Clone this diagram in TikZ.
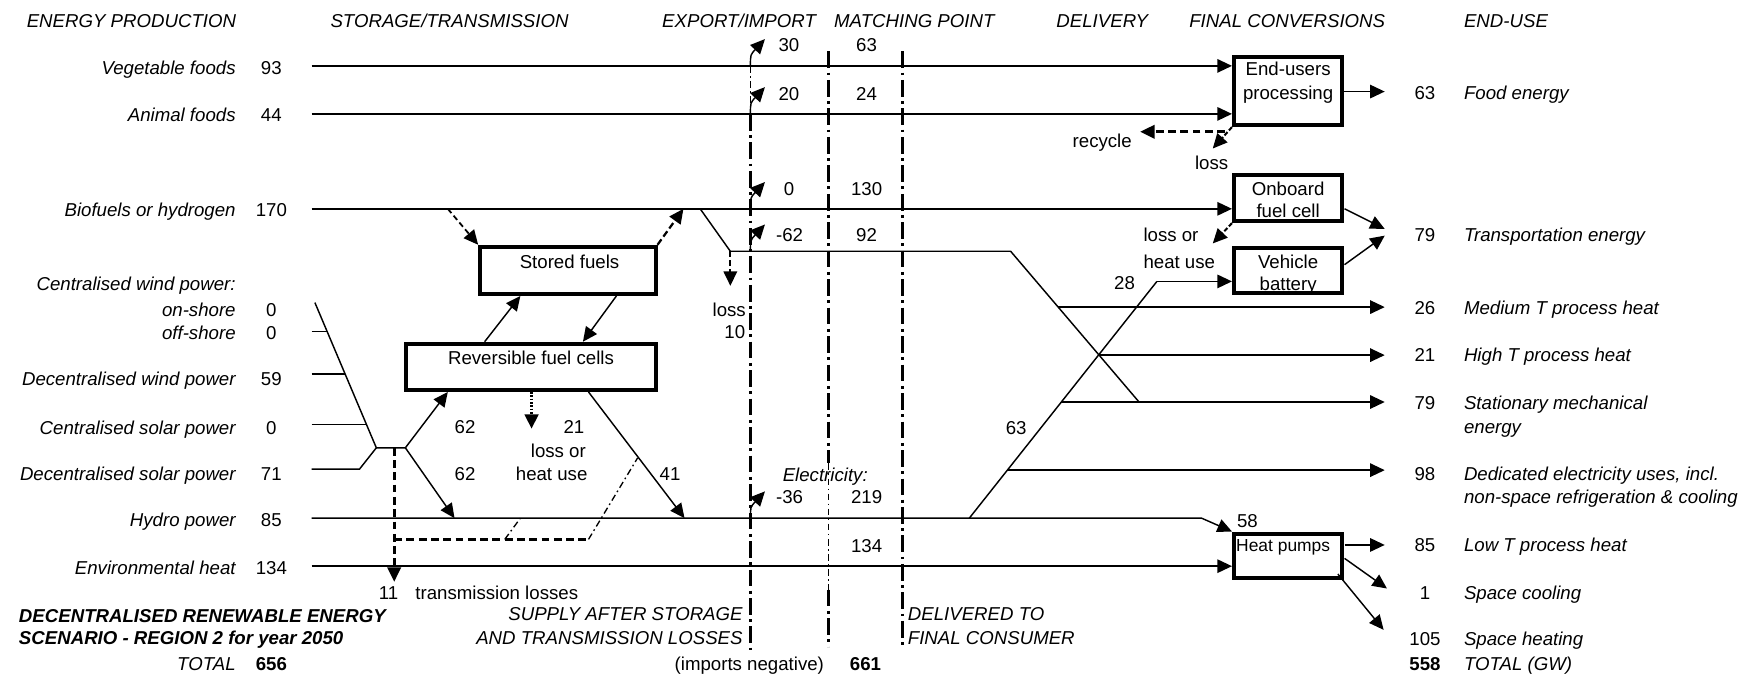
\documentclass[tikz,border=0pt]{standalone}
\usepackage{fontspec}
\setmainfont{Liberation Sans}
\usetikzlibrary{arrows.meta}
\newcommand\dfont{\fontsize{16.7}{19}\selectfont}
\begin{document}
\begin{tikzpicture}[x=1pt,y=-1pt,
  every node/.style={inner sep=0pt,outer sep=0pt,font=\dfont,text height=11.5pt,text depth=3.4pt},
  fl/.style={line width=1.3pt},
  ar/.style={fl,-{Triangle[length=13pt,width=12pt]}},
  bx/.style={draw,line width=3.6pt,outer sep=1.8pt},
  hd/.style={font=\dfont\itshape,anchor=west},
  le/.style={font=\dfont\itshape,anchor=east},
  lw/.style={font=\dfont\itshape,anchor=west},
  bn/.style={font=\dfont\bfseries},
  bi/.style={font=\dfont\bfseries\itshape,anchor=west},
  loss/.style={line width=2.4pt,dash pattern=on 7pt off 4pt},
  lossar/.style={loss,-{Triangle[length=13pt,width=12pt]}},
  thinloss/.style={line width=1.2pt,dash pattern=on 6pt off 3pt on 1.5pt off 3pt},
  dotar/.style={line width=3pt,dash pattern=on 1.5pt off 1.5pt,-{Triangle[length=13pt,width=12pt]}},
  dd/.style={line width=3pt,dash pattern=on 15pt off 4pt on 2.5pt off 4pt},
  ddthin/.style={line width=0.8pt,dash pattern=on 6pt off 3pt on 1.5pt off 3pt}
]
\useasboundingbox (0,0) rectangle (1568,605);

% ---------- headers
\node[hd] (hEP) at (24,21) {ENERGY PRODUCTION};
\node[hd] (hST) at (296,21) {STORAGE/TRANSMISSION};
\node[hd] (hEI) at (593,21) {EXPORT/IMPORT};
\node[hd] (hMP) at (747,21) {MATCHING POINT};
\node[hd] (hDL) at (946,21) {DELIVERY};
\node[hd] (hFC) at (1065,21) {FINAL CONVERSIONS};
\node[hd] (hEU) at (1311,21) {END-USE};

% ---------- left labels
\node[le] (lVeg) at (211,63) {Vegetable foods};
\node[le] (lAni) at (211,105) {Animal foods};
\node[le] (lBio) at (211,190) {Biofuels or hydrogen};
\node[le] (lCW) at (211,256) {Centralised wind power:};
\node[le] (lOn) at (211,279) {on-shore};
\node[le] (lOff) at (211,300) {off-shore};
\node[le] (lDW) at (211,341) {Decentralised wind power};
\node[le] (lCS) at (211,385) {Centralised solar power};
\node[le] (lDS) at (211,426) {Decentralised solar power};
\node[le] (lHy) at (211,467) {Hydro power};
\node[le] (lEn) at (211,510) {Environmental heat};
\node (nVeg) at (243,63) {93};
\node (nAni) at (243,105) {44};
\node (nBio) at (243,190) {170};
\node (nOn) at (243,279) {0};
\node (nOff) at (243,300) {0};
\node (nDW) at (243,341) {59};
\node (nCS) at (243,385) {0};
\node (nDS) at (243,426) {71};
\node (nHy) at (243,467) {85};
\node (nEn) at (243,510) {134};

% ---------- bottom texts
\node[bi] (bt1) at (17,553) {DECENTRALISED RENEWABLE ENERGY};
\node[bi] (bt2) at (17,573) {SCENARIO - REGION 2 for year 2050};
\node[le] (bTot) at (211,596) {TOTAL};
\node[bn] (b656) at (243,596) {656};
\node (n11) at (348,533) {11};
\node[anchor=west] (tLoss) at (372,533) {transmission losses};
\node[le] (sup1) at (665,552) {SUPPLY AFTER STORAGE};
\node[le] (sup2) at (665,573) {AND TRANSMISSION LOSSES};
\node (impn) at (671,596) {(imports negative)};
\node[bn] (b661) at (775,596) {661};
\node[lw] (del1) at (813,552) {DELIVERED TO};
\node[lw] (del2) at (813,573) {FINAL CONSUMER};

% ---------- dash-dot boundary lines
\draw[ddthin] (672,59) -- (672,102);
\draw[dd] (672,102) -- (672,582);
\draw[dd] (742,46) -- (742,415);
\draw[ddthin] (742,415) -- (742,528);
\draw[dd] (742,528) -- (742,579);
\draw[dd] (808,46) -- (808,579);

% ---------- boxes
\node[bx,minimum width=97pt,minimum height=61pt] (eu) at (1153.5,81.5) {};
\node[bx,minimum width=97pt,minimum height=41pt] (ob) at (1153.5,177.5) {};
\node[bx,minimum width=97pt,minimum height=40pt] (vb) at (1153.5,242) {};
\node[bx,minimum width=97pt,minimum height=39.5pt] (hp) at (1153.5,497.5) {};
\node[bx,minimum width=157pt,minimum height=42pt] (sf) at (508.5,242) {};
\node[bx,minimum width=223pt,minimum height=41pt] (rf) at (475.5,328.5) {};
\node (euT1) at (1153.5,64) {End-users};
\node (euT2) at (1153.5,85) {processing};
\node (obT1) at (1153.5,171) {Onboard};
\node (obT2) at (1153.5,191) {fuel cell};
\node (vbT1) at (1153.5,236) {Vehicle};
\node (vbT2) at (1153.5,256) {battery};
\node[anchor=west,font=\fontsize{15.6}{18}\selectfont] (hpT) at (1107,490) {Heat pumps};
\node (sfT) at (510,236) {Stored fuels};
\node (rfT) at (475.5,322) {Reversible fuel cells};

% ---------- main horizontal flows
\coordinate (sVeg) at (279,59);
\coordinate (sAni) at (279,102);
\coordinate (sBio) at (279,187);
\coordinate (sHyd) at (279,464);
\coordinate (sEnv) at (279,507);
\coordinate (hydB) at (1076,464);
\draw[ar] (sVeg) -- (sVeg -| eu.west);
\draw[ar] (sAni) -- (sAni -| eu.west);
\draw[ar] (sBio) -- (sBio -| ob.west);
\draw[ar] (sHyd) -- (hydB) -- (hp.north west);
\draw[ar] (sEnv) -- (sEnv -| hp.west);

% ---------- wind / solar collection
\coordinate (w0) at (282,271);
\coordinate (w1) at (337,401);
\coordinate (j1) at (363,401);
\coordinate (ds1) at (322,420);
\draw[fl] (w0) -- (w1) -- (j1);
\draw[fl] (279,297) -- (293,297);
\draw[fl] (279,335) -- (309.1,335);
\draw[fl] (279,380) -- (328.1,380);
\draw[fl] (279,420) -- (ds1) -- (w1);
\coordinate (rfIn) at (401,351);
\coordinate (hyIn) at (407,464);
\draw[ar] (j1) -- (rfIn);
\draw[ar] (j1) -- (hyIn);

% transmission losses
\coordinate (d0) at (353,401);
\coordinate (d1) at (353,521);
\coordinate (d2) at (353,483);
\coordinate (d3) at (527,483);
\coordinate (d4) at (571,410);
\coordinate (d5) at (452,483);
\coordinate (d6) at (466,464);
\draw[lossar] (d0) -- (d1);
\draw[loss] (d2) -- (d3);
\draw[thinloss] (d3) -- (d4);
\draw[thinloss] (d5) -- (d6);

% storage arrows
\coordinate (rfU1) at (434,306);
\coordinate (sfD1) at (466,265);
\coordinate (sfD2) at (552,265);
\coordinate (rfU2) at (522,306);
\draw[ar] (rfU1) -- (sfD1);
\draw[ar] (sfD2) -- (rfU2);
\coordinate (bioDn) at (401,187);
\coordinate (bioUp) at (612,187);
\draw[lossar,line width=1.6pt,dash pattern=on 5pt off 3pt] (bioDn) -- (sf.north west);
\draw[lossar,line width=2pt,dash pattern=on 6pt off 3pt] (sf.north east) -- (bioUp);
\coordinate (rfD) at (527,351);
\coordinate (hyIn2) at (613,464);
\draw[ar] (rfD) -- (hyIn2);
\coordinate (rfL) at (476,351);
\coordinate (rfLt) at (476,384);
\draw[dotar] (rfL) -- (rfLt);
\node (n62a) at (416.5,384) {62};
\node (n62b) at (416.5,426) {62};
\node (n21) at (514,384) {21};
\node (tLo1) at (500,406) {loss or};
\node (tLo2) at (494,426) {heat use};
\node (n41) at (600,426) {41};

% ---------- biofuel to -62 route
\coordinate (bioBr) at (627,187);
\coordinate (f1) at (654,225);
\coordinate (f2) at (905,225);
\coordinate (f3) at (1020,360);
\draw[fl] (bioBr) -- (f1) -- (f2) -- (f3);
\coordinate (f1t) at (654,256);
\draw[lossar,line width=2pt,dash pattern=on 5pt off 3pt] (f1) -- (f1t);
\node (tL10a) at (653,279) {loss};
\node (tL10b) at (658,299) {10};

% ---------- electricity route
\coordinate (e0) at (868,464);
\coordinate (e1) at (1036,252);
\draw[fl] (e0) -- (e1);
\draw[ar] (e1) -- (e1 -| vb.west);
\node (n28) at (1007,255) {28};
\node (n63e) at (910,385) {63};

% ---------- end-use lines
\coordinate (m26) at (947.6,275);
\coordinate (m21) at (984,318);
\coordinate (m79) at (950.4,360);
\coordinate (m98) at (902,421);
\coordinate (t26) at (1240,275);
\coordinate (t21) at (1240,318);
\coordinate (t79) at (1240,360);
\coordinate (t98) at (1240,421);
\draw[ar] (m26) -- (t26);
\draw[ar] (m21) -- (t21);
\draw[ar] (m79) -- (t79);
\draw[ar] (m98) -- (t98);

% ---------- box outputs
\coordinate (tFood) at (1240,82);
\draw[ar] (eu.east |- tFood) -- (tFood);
\coordinate (obO) at (1204,187);
\coordinate (vbO) at (1204,237);
\coordinate (tTr1) at (1240,205);
\coordinate (tTr2) at (1240,211);
\draw[ar] (obO) -- (tTr1);
\draw[ar] (vbO) -- (tTr2);
\coordinate (hpO1) at (1204,488);
\coordinate (hpO2) at (1204,500);
\coordinate (hpO3) at (1198,514);
\coordinate (tLowT) at (1240,488);
\coordinate (tCool) at (1242,527);
\coordinate (tHeat) at (1239,564);
\draw[ar] (hpO1) -- (tLowT);
\draw[ar] (hpO2) -- (tCool);
\draw[ar] (hpO3) -- (tHeat);
\node (n58) at (1117,468) {58};

% ---------- end-user losses
\coordinate (rcS) at (1097,118);
\coordinate (rcT) at (1021,118);
\draw[lossar] (rcS) -- (rcT);
\coordinate (euL) at (1086,133);
\draw[lossar,line width=1.8pt,dash pattern=on 4pt off 2pt] (eu.south west) -- (euL);
\node (tRec) at (987,128) {recycle};
\node (tEuL) at (1085,148) {loss};
\coordinate (obL) at (1086,218);
\draw[lossar,line width=1.8pt,dash pattern=on 4pt off 2pt] (ob.south west) -- (obL);
\node[anchor=west] (tObL1) at (1024,212) {loss or};
\node[anchor=west] (tObL2) at (1024,236) {heat use};

% ---------- export / import arrows and matching numbers
\coordinate (x1) at (672,59);   \coordinate (x1t) at (685,35);
\coordinate (x2) at (672,102);  \coordinate (x2t) at (685,78);
\coordinate (x3) at (672,187);  \coordinate (x3t) at (685,163);
\coordinate (x4) at (672,225);  \coordinate (x4t) at (685,201);
\coordinate (x5) at (672,464);  \coordinate (x5t) at (685,440);
\draw[ar] (x1) .. controls (672,49) .. (x1t);
\draw[ar] (x2) .. controls (672,92) .. (x2t);
\draw[ar] (x3) .. controls (672,177) .. (x3t);
\draw[ar] (x4) .. controls (672,215) .. (x4t);
\draw[ar] (x5) .. controls (672,454) .. (x5t);
\node (ex1) at (706.5,42) {30};
\node (mp1) at (776,42) {63};
\node (ex2) at (706.5,86) {20};
\node (mp2) at (776,86) {24};
\node (ex3) at (706.5,171) {0};
\node (mp3) at (776,171) {130};
\node (ex4) at (707,212) {-62};
\node (mp4) at (776,212) {92};
\node[font=\dfont\itshape] (tEl) at (739,427) {Electricity:};
\node (ex5) at (707,447) {-36};
\node (mp5) at (776,447) {219};
\node (mp6) at (776,491) {134};

% ---------- end-use labels
\node (r1) at (1276,85) {63};
\node[lw] (u1) at (1311,85) {Food energy};
\node (r2) at (1276,212) {79};
\node[lw] (u2) at (1311,212) {Transportation energy};
\node (r3) at (1276,278) {26};
\node[lw] (u3) at (1311,278) {Medium T process heat};
\node (r4) at (1276,320) {21};
\node[lw] (u4) at (1311,320) {High T process heat};
\node (r5) at (1276,363) {79};
\node[lw] (u5) at (1311,363) {Stationary mechanical};
\node[lw] (u5b) at (1311,384) {energy};
\node (r6) at (1276,426) {98};
\node[lw] (u6) at (1311,426) {Dedicated electricity uses, incl.};
\node[lw] (u6b) at (1311,447) {non-space refrigeration \& cooling};
\node (r7) at (1276,490) {85};
\node[lw] (u7) at (1311,490) {Low T process heat};
\node (r8) at (1276,533) {1};
\node[lw] (u8) at (1311,533) {Space cooling};
\node (r9) at (1276,574) {105};
\node[lw] (u9) at (1311,574) {Space heating};
\node[bn] (r10) at (1276,596) {558};
\node[lw] (u10) at (1311,596) {TOTAL (GW)};
\end{tikzpicture}
\end{document}
